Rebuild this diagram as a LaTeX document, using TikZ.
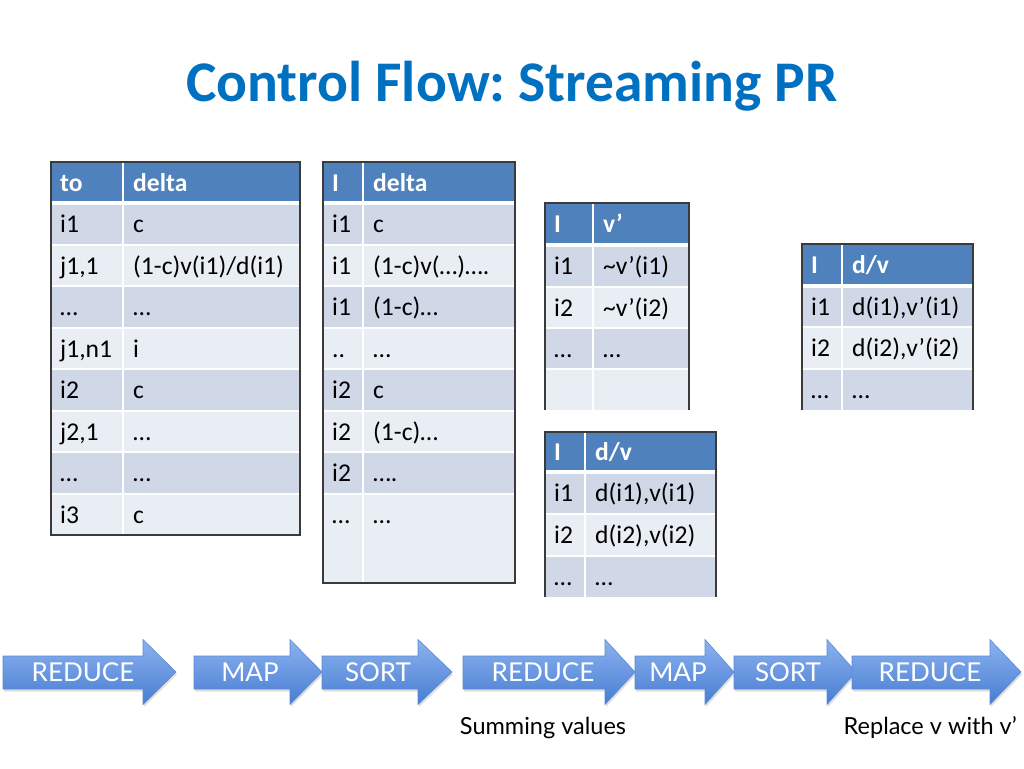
\documentclass[tikz,border=0pt]{standalone}
\usepackage{fontspec}
\setmainfont{Carlito}
\newfontfamily\arrowfont{Lato}
\usetikzlibrary{shadows}
\frenchspacing
\definecolor{titleblue}{HTML}{0070C0}
\definecolor{hdrblue}{HTML}{4F81BD}
\definecolor{rowdark}{HTML}{D0D8E8}
\definecolor{rowlight}{HTML}{E9EDF4}
\definecolor{tabborder}{HTML}{3A3A3A}
\definecolor{arrtop}{RGB}{140,178,240}
\definecolor{arrbot}{RGB}{72,125,210}
\definecolor{arrline}{RGB}{90,138,214}
\tikzset{
  cell/.style={anchor=base west,inner sep=0pt,font=\fontsize{25.6}{30}\selectfont,text=black},
  hcell/.style={anchor=base west,inner sep=0pt,font=\fontsize{25.6}{30}\selectfont\bfseries,text=white},
  sep/.style={draw=white,line width=2pt},
  hsep/.style={draw=white,line width=3.5pt},
  tborder/.style={draw=tabborder,line width=1.3pt},
  arrowshape/.style={top color=arrtop,bottom color=arrbot,draw=arrline,line width=0.6pt,
    drop shadow={opacity=0.25,shadow xshift=1pt,shadow yshift=-2.5pt}},
  arrowtxt/.style={inner sep=0pt,text=white,font=\arrowfont\fontsize{26}{30}\selectfont},
  lbl/.style={inner sep=0pt,text=black,font=\arrowfont\fontsize{23.5}{28}\selectfont},
}
% #1 name #2 L #3 D #4 R #5 top #6 bot #7 fill #8 A #9 B
\newcommand\mytrow[9]{%
  \fill[#7] (#2,#5) rectangle (#4,#6);
  \node[cell] (#1a) at ({#2+9},{(#5+#6)/2+8.5}) {#8};
  \node[cell] (#1b) at ({#3+10},{(#5+#6)/2+8.5}) {#9};
}
% #1 name #2 L #3 D #4 R #5 top #6 bot #7 A #8 B
\newcommand\mythead[8]{%
  \fill[hdrblue] (#2,#5) rectangle (#4,#6);
  \node[hcell] (#1a) at ({#2+9},{(#5+#6)/2+8.5}) {#7};
  \node[hcell] (#1b) at ({#3+10},{(#5+#6)/2+8.5}) {#8};
}
% #1 name #2 x0 #3 head base #4 tip #5 text centre #6 text
\newcommand\myarrow[6]{%
  \path[arrowshape] (#2,656) -- (#3,656) -- (#3,639.5) -- (#4,672) -- (#3,704.5) -- (#3,689) -- (#2,689) -- cycle;
  \node[arrowtxt] (#1) at (#5,672) {#6};
}
\begin{document}
\begin{tikzpicture}[x=1pt,y=-1pt]
\fill[white] (0,0) rectangle (1024,768);
\useasboundingbox (0,0) rectangle (1024,768);

\node[anchor=base,inner sep=0pt,text=titleblue,font=\fontsize{57.5}{66}\selectfont\bfseries] (title) at (512,101) {Control Flow: Streaming PR};

% ---------- Table 1 ----------
\mythead{ta0}{51}{123}{300}{162}{203}{to}{delta}
\mytrow{ta1}{51}{123}{300}{203}{245}{rowdark}{i1}{c}
\mytrow{ta2}{51}{123}{300}{245}{286}{rowlight}{j1,1}{(1-c)v(i1)/d(i1)}
\mytrow{ta3}{51}{123}{300}{286}{328}{rowdark}{…}{…}
\mytrow{ta4}{51}{123}{300}{328}{369}{rowlight}{j1,n1}{i}
\mytrow{ta5}{51}{123}{300}{369}{411}{rowdark}{i2}{c}
\mytrow{ta6}{51}{123}{300}{411}{452}{rowlight}{j2,1}{…}
\mytrow{ta7}{51}{123}{300}{452}{494}{rowdark}{…}{…}
\mytrow{ta8}{51}{123}{300}{494}{535}{rowlight}{i3}{c}
\draw[sep] (123,162) -- (123,535);
\foreach \yy in {245,286,328,369,411,452,494} \draw[sep] (51,\yy) -- (300,\yy);
\draw[hsep] (51,203) -- (300,203);
\draw[tborder] (51,162) rectangle (300,535);

% ---------- Table 2 ----------
\mythead{tb0}{323}{363}{515}{162}{203}{I}{delta}
\mytrow{tb1}{323}{363}{515}{203}{245}{rowdark}{i1}{c}
\mytrow{tb2}{323}{363}{515}{245}{286}{rowlight}{i1}{(1-c)v(…)….}
\mytrow{tb3}{323}{363}{515}{286}{328}{rowdark}{i1}{(1-c)…}
\mytrow{tb4}{323}{363}{515}{328}{369}{rowlight}{..}{…}
\mytrow{tb5}{323}{363}{515}{369}{411}{rowdark}{i2}{c}
\mytrow{tb6}{323}{363}{515}{411}{452}{rowlight}{i2}{(1-c)…}
\mytrow{tb7}{323}{363}{515}{452}{494}{rowdark}{i2}{….}
\fill[rowlight] (323,494) rectangle (515,583);
\node[cell] (tb8a) at (332,523.5) {…};
\node[cell] (tb8b) at (373,523.5) {…};
\draw[sep] (363,162) -- (363,583);
\foreach \yy in {245,286,328,369,411,452,494} \draw[sep] (323,\yy) -- (515,\yy);
\draw[hsep] (323,203) -- (515,203);
\draw[tborder] (323,162) rectangle (515,583);

% ---------- Table 3 ----------
\mythead{tc0}{545}{593}{689}{203}{245}{I}{v’}
\mytrow{tc1}{545}{593}{689}{245}{287}{rowdark}{i1}{\textasciitilde v’(i1)}
\mytrow{tc2}{545}{593}{689}{287}{328}{rowlight}{i2}{\textasciitilde v’(i2)}
\mytrow{tc3}{545}{593}{689}{328}{369}{rowdark}{…}{…}
\fill[rowlight] (545,369) rectangle (689,410);
\draw[sep] (593,203) -- (593,410);
\foreach \yy in {287,328,369} \draw[sep] (545,\yy) -- (689,\yy);
\draw[hsep] (545,245) -- (689,245);
\draw[tborder] (545,410) -- (545,203) -- (689,203) -- (689,410);

% ---------- Table 4 ----------
\mythead{td0}{545}{585}{716}{432}{472}{I}{d/v}
\mytrow{td1}{545}{585}{716}{472}{514}{rowdark}{i1}{d(i1),v(i1)}
\mytrow{td2}{545}{585}{716}{514}{556}{rowlight}{i2}{d(i2),v(i2)}
\mytrow{td3}{545}{585}{716}{556}{597}{rowdark}{…}{…}
\draw[sep] (585,432) -- (585,597);
\foreach \yy in {514,556} \draw[sep] (545,\yy) -- (716,\yy);
\draw[hsep] (545,472) -- (716,472);
\draw[tborder] (545,597) -- (545,432) -- (716,432) -- (716,597);

% ---------- Table 5 ----------
\mythead{te0}{802}{842}{973}{244}{286}{I}{d/v}
\mytrow{te1}{802}{842}{973}{286}{327}{rowdark}{i1}{d(i1),v’(i1)}
\mytrow{te2}{802}{842}{973}{327}{369}{rowlight}{i2}{d(i2),v’(i2)}
\mytrow{te3}{802}{842}{973}{369}{410}{rowdark}{…}{…}
\draw[sep] (842,244) -- (842,410);
\foreach \yy in {327,369} \draw[sep] (802,\yy) -- (973,\yy);
\draw[hsep] (802,286) -- (973,286);
\draw[tborder] (802,410) -- (802,244) -- (973,244) -- (973,410);

% ---------- Arrows ----------
\myarrow{a1}{3}{143}{176}{83}{REDUCE}
\myarrow{a2}{194}{290}{322}{250}{MAP}
\myarrow{a3}{322}{418}{452}{378}{SORT}
\myarrow{a4}{463}{605}{635}{543}{REDUCE}
\myarrow{a5}{635}{705}{734}{678}{MAP}
\myarrow{a6}{734}{827}{856}{788}{SORT}
\myarrow{a7}{852}{990}{1021}{930}{REDUCE}

\node[lbl,anchor=base] (l1) at (543,734) {Summing values};
\node[lbl,anchor=base east] (l2) at (1017,734) {Replace v with v’};
\end{tikzpicture}
\end{document}
